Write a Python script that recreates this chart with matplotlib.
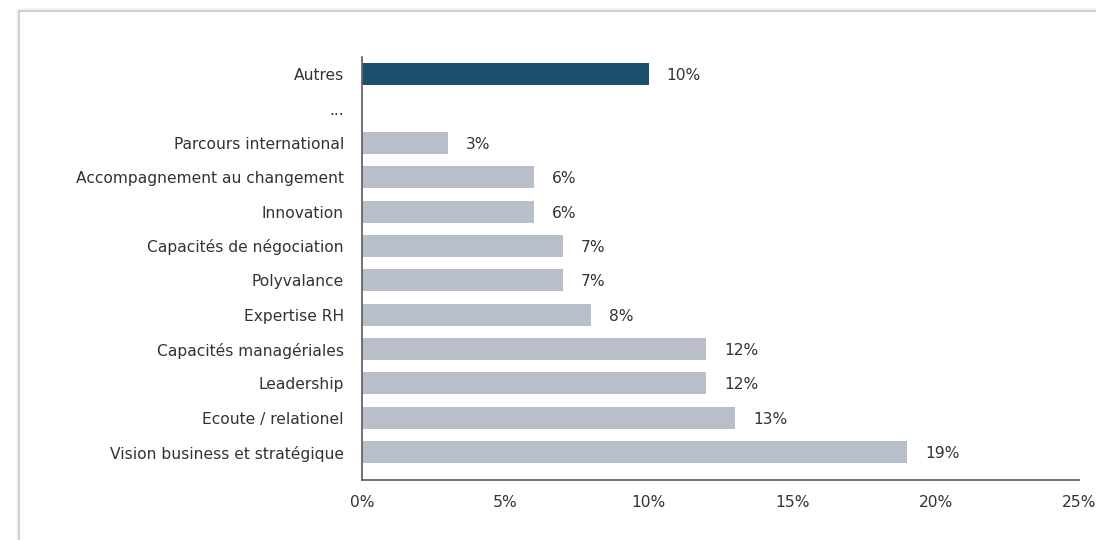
import matplotlib.pyplot as plt
from matplotlib.patches import Rectangle
from matplotlib.ticker import FuncFormatter
import numpy as np

# Skills, top to bottom ("..." is an empty separator row)
categories = ['Autres', '...', 'Parcours international', 'Accompagnement au changement',
              'Innovation', 'Capacités de négociation', 'Polyvalance', 'Expertise RH',
              'Capacités managériales', 'Leadership', 'Ecoute / relationel',
              'Vision business et stratégique']
values = [10, None, 3, 6, 6, 7, 7, 8, 12, 12, 13, 19]
x_ticks = [0, 5, 10, 15, 20, 25]

highlight = '#1c4f6e'
grey_bar = '#b8bfcb'
text_col = '#333333'
spine_col = '#666666'

plt.rcParams['font.family'] = ['DejaVu Sans']

fig = plt.figure(figsize=(10.96, 5.40), dpi=100)

# card frame with a faint shadow
W, H = 1096, 540
for i, a in enumerate([0.02, 0.04, 0.06]):
    off = 3 - i
    fig.patches.append(Rectangle(((19 - off) / W, -0.1), 1.2, (H - 11 + off) / H + 0.1,
                                 transform=fig.transFigure, facecolor='none',
                                 edgecolor='black', alpha=a, lw=1.0))
fig.patches.append(Rectangle((19 / W, -0.1), 1.2, (H - 11) / H + 0.1,
                             transform=fig.transFigure, facecolor='none',
                             edgecolor='#c8c8c8', lw=1.2))

ax = fig.add_axes([362 / W, 1 - 480 / H, (1079 - 362) / W, (480 - 57) / H])
ax.set_zorder(5)
ax.patch.set_alpha(0)

fs = 11.2
ypos = np.arange(len(categories))
for y, v in zip(ypos, values):
    if v is None:
        continue
    ax.barh(y, v, height=0.64, color=highlight if y == 0 else grey_bar)
    ax.annotate(f'{v}%', (v, y), xytext=(18, 0), textcoords='offset pixels',
                va='center_baseline', ha='left', fontsize=fs, color=text_col)

ax.set_xlim(0, 25)
ax.set_ylim(11.81, -0.5)
ax.set_yticks(ypos)
ax.set_yticklabels(categories, va='center_baseline')
ax.set_xticks(x_ticks)
ax.xaxis.set_major_formatter(FuncFormatter(lambda x, _: f'{x:.0f}%'))
ax.tick_params(axis='y', length=0, pad=13, labelsize=fs, labelcolor=text_col)
ax.tick_params(axis='x', length=0, pad=11, labelsize=fs, labelcolor=text_col)

for s in ['top', 'right']:
    ax.spines[s].set_visible(False)
for s in ['left', 'bottom']:
    ax.spines[s].set_color(spine_col)
    ax.spines[s].set_linewidth(1.3)

fig.savefig('out.png', dpi=100)
